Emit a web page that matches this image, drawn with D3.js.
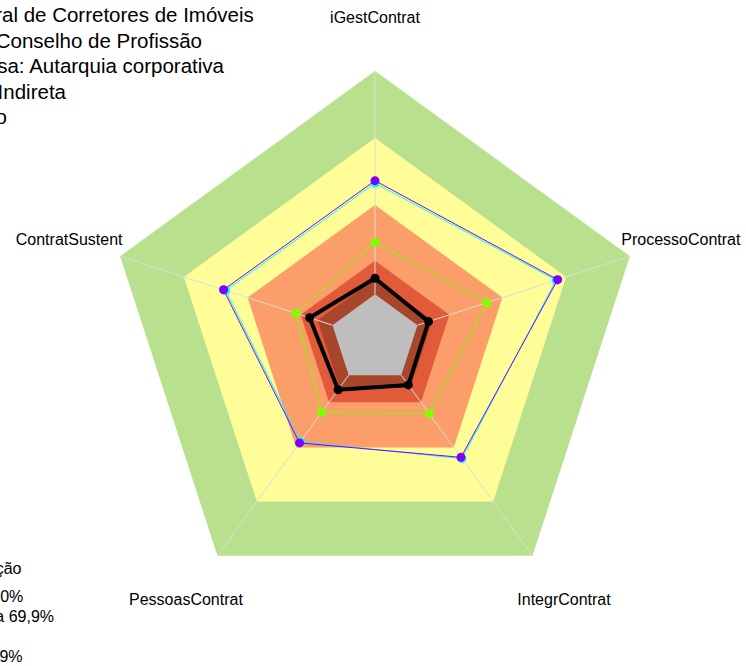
<!DOCTYPE html>
<html>
<head>
<meta charset="utf-8">
<script src="https://cdn.jsdelivr.net/npm/d3@7"></script>
<style>
  html, body { margin: 0; padding: 0; background: #fff; overflow: hidden; }
  svg { display: block; font-family: "Liberation Sans", Arial, sans-serif; }
</style>
</head>
<body>
<svg id="chart" width="746" height="666"></svg>
<script>
// Radar axes (clockwise from the top)
const axes = ["iGestContrat", "ProcessoContrat", "IntegrContrat", "PessoasContrat", "ContratSustent"];

// Series values (%), one per axis
const orgValues    = [7.2, 5.2, 5.4, 8.1, 10.8];
const limeValues   = [23.3, 32.6, 21.4, 20.6, 17.2];
const cyanValues   = [49.8, 65.3, 46.2, 36.8, 50.3];
const purpleValues = [50.9, 66.0, 45.5, 37.5, 51.3];

// Capability bands (outer limit of each band, %)
const bandLimits = [100, 70, 40, 15, 7, 0];
const bandColors = ["#b9e08d", "#fffd97", "#fc9e69", "#e15a39", "#a9452a", "#bebebe"];

// Header text
const titleLines = [
  "Organização: Conselho Federal de Corretores de Imóveis",
  "Segmento: Conselho de Profissão",
  "Natureza da empresa: Autarquia corporativa",
  "Administração: Indireta",
  "Poder: Executivo"
];
const titleEnds = [253.8, 202, 224, 66, 7];

// Legend text
const legendTitle = "Faixas de classificação";
const legendLines = [
  "Aprimorado: 70 a 100%",
  "Intermediário: 40 a 69,9%",
  "Iniciando: 15 a 39,9%",
  "Inexpressivo: 0 a 14,9%"
];
const legendEnds = [23.3, 54, -4, 22.5];

const svg = d3.select("#chart");
const cx = 375, cy = 339, R = 268;

const r = d3.scaleLinear().domain([0, 100]).range([R / 6, R]);
const angle = d3.scaleLinear().domain([0, axes.length]).range([0, 2 * Math.PI]);

const pt = (i, v) => {
  const a = angle(i), rr = r(v);
  return [cx + rr * Math.sin(a), cy - rr * Math.cos(a)];
};
const ring = v => axes.map((_, i) => pt(i, v));
const closed = d3.line().curve(d3.curveLinearClosed);

// Bands (outermost first; each inner one painted over)
svg.append("g").selectAll("path")
  .data(bandLimits)
  .join("path")
  .attr("d", v => closed(ring(v)))
  .attr("fill", (_, i) => bandColors[i]);

// Spokes
svg.append("g").selectAll("line")
  .data(axes)
  .join("line")
  .attr("x1", (_, i) => pt(i, 0)[0])
  .attr("y1", (_, i) => pt(i, 0)[1])
  .attr("x2", (_, i) => pt(i, 100)[0])
  .attr("y2", (_, i) => pt(i, 100)[1])
  .attr("stroke", "#dcdcdc")
  .attr("stroke-width", 1);

// Series
const series = [
  { values: limeValues,   color: "#80ff00", width: 1, dot: 4.5 },
  { values: cyanValues,   color: "#00ffff", width: 1, dot: 4.5 },
  { values: purpleValues, color: "#8000ff", width: 1, dot: 4.5 },
  { values: orgValues,    color: "#000000", width: 4, dot: 4.5 }
];

const sg = svg.append("g").selectAll("g").data(series).join("g");
sg.append("path")
  .attr("d", s => closed(s.values.map((v, i) => pt(i, v))))
  .attr("fill", "none")
  .attr("stroke", s => s.color)
  .attr("stroke-width", s => s.width)
  .attr("stroke-linejoin", "round");
sg.selectAll("circle")
  .data(s => s.values.map((v, i) => ({ p: pt(i, v), c: s.color, d: s.dot })))
  .join("circle")
  .attr("cx", d => d.p[0])
  .attr("cy", d => d.p[1])
  .attr("r", d => d.d)
  .attr("fill", d => d.c);

// Axis labels at 1.2 × radius
svg.append("g").selectAll("text")
  .data(axes)
  .join("text")
  .attr("x", (_, i) => cx + 1.2 * R * Math.sin(angle(i)))
  .attr("y", (_, i) => cy - 1.2 * R * Math.cos(angle(i)))
  .attr("dy", "0.35em")
  .attr("text-anchor", "middle")
  .attr("font-size", 16)
  .attr("fill", "#000")
  .text(d => d);

// Header block
svg.append("g").selectAll("text")
  .data(titleLines)
  .join("text")
  .attr("x", (_, i) => titleEnds[i])
  .attr("y", (_, i) => 22 + 25.5 * i)
  .attr("text-anchor", "end")
  .attr("font-size", 20.5)
  .attr("fill", "#000")
  .text(d => d);

// Legend block
const lg = svg.append("g");
lg.append("text")
  .attr("x", 21.5).attr("y", 574)
  .attr("text-anchor", "end")
  .attr("font-size", 16)
  .text(legendTitle);
lg.selectAll("text.item")
  .data(legendLines)
  .join("text")
  .attr("class", "item")
  .attr("x", (_, i) => legendEnds[i])
  .attr("y", (_, i) => 601.5 + 20 * i)
  .attr("text-anchor", "end")
  .attr("font-size", 16)
  .text(d => d);
</script>
</body>
</html>
